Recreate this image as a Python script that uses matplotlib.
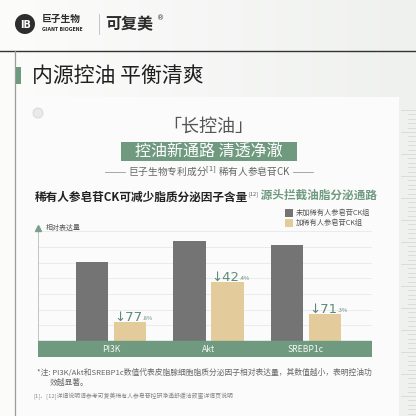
import numpy as np
import matplotlib
matplotlib.use("Agg")
import matplotlib.pyplot as plt
from matplotlib.patches import Rectangle, Circle

plt.rcParams["font.family"] = ["Noto Sans CJK SC", "DejaVu Sans"]

categories = ["PI3K", "Akt", "SREBP1c"]
control = [0.79, 1.00, 0.96]
treated = [0.19, 0.59, 0.27]
drops = ["77.8", "42.4", "71.3"]
legend_labels = ["未加稀有人参皂苷CK组", "加稀有人参皂苷CK组"]

GREEN = "#6F9A80"
DARK = "#747474"
TAN = "#E4CB9B"
TXT_GREEN = "#5E8B78"

W = H = 416
fig = plt.figure(figsize=(4.16, 4.16), dpi=100)

# background layer in pixel coordinates
bg = fig.add_axes([0, 0, 1, 1])
bg.set_xlim(0, W)
bg.set_ylim(H, 0)
bg.axis("off")
grad = np.linspace(0, 1, 256)[None, :]
bg.imshow(grad, extent=(0, W, H, 0), cmap=matplotlib.colors.LinearSegmentedColormap.from_list(
    "g", ["#FCFCFB", "#EFF1EF"]), aspect="auto", zorder=0)
bg.add_patch(Rectangle((19, 97), 380, 330, facecolor="#FBFBFB", edgecolor="none", zorder=1))
bg.plot([0, W], [51, 51], color="#333333", lw=1.0, zorder=2)
bg.plot([15, 15], [51, H], color="#9A9A9A", lw=0.9, zorder=2)

# ruler ticks on the right
for i, yy in enumerate(np.arange(110, 416, 4.4)):
    x0 = 401 if i % 5 == 0 else 408
    bg.plot([x0, 415], [yy, yy], color="#D2D2D2", lw=0.5, zorder=2)

# logo
bg.add_patch(Circle((25, 24), 10, facecolor="#2E2E2E", zorder=3))
bg.text(25.5, 24.5, "IB", color="white", fontsize=7, fontweight="bold", ha="center", va="center",
        family="DejaVu Sans", zorder=4)
bg.text(42, 19, "巨子生物", fontsize=7, fontweight="bold", color="#2B2B2B", va="center", zorder=4)
bg.text(42, 29.5, "GIANT BIOGENE", fontsize=3.3, fontweight="bold", color="#2B2B2B", va="center",
        family="DejaVu Sans", zorder=4)
bg.plot([99, 99], [14, 34], color="#BBBBBB", lw=0.6, zorder=3)
bg.text(105, 24, "可复美", fontsize=11.5, fontweight="bold", color="#2B2B2B", va="center", zorder=4)
bg.text(157, 18, "®", fontsize=5, color="#2B2B2B", va="center", family="DejaVu Sans", zorder=4)

# section title
bg.add_patch(Rectangle((16, 67), 5, 17, facecolor=GREEN, zorder=3))
bg.text(32, 76, "内源控油 平衡清爽", fontsize=15, color="#1F1F1F", va="center", zorder=4)

# card
bg.add_patch(Circle((38, 113), 5, facecolor="#E9E9E9", edgecolor="#D6D6D6", lw=0.6, zorder=3))
bg.text(208, 127, "「长控油」", fontsize=13, color="#555555", ha="center", va="center", zorder=4)
bg.add_patch(Rectangle((121, 142), 176, 19, facecolor=GREEN, zorder=3))
bg.text(209, 152, "控油新通路 清透净澈", fontsize=11.5, color="white", ha="center", va="center", zorder=4)
bg.text(209, 171.5, "巨子生物专利成分$^{[1]}$ 稀有人参皂苷CK", fontsize=7, color="#666666",
        ha="center", va="center", zorder=4)
bg.plot([105, 125], [171.5, 171.5], color="#999999", lw=0.6, zorder=3)
bg.plot([293, 313], [171.5, 171.5], color="#999999", lw=0.6, zorder=3)
t1 = bg.text(35, 197, "稀有人参皂苷CK可减少脂质分泌因子含量", fontsize=8.4, fontweight="bold",
             color="#222222", va="center", zorder=4)
t2 = bg.annotate("[12]", xy=(1, 0.75), xycoords=t1, fontsize=4, color="#555555", va="center",
                 zorder=4)
bg.annotate(" 源头拦截油脂分泌通路", xy=(1, 0.5), xycoords=t2, xytext=(0, -1.2),
            textcoords="offset points", fontsize=8.4, fontweight="bold", color=GREEN,
            va="center", zorder=4)

# legend
for k, (lab, col) in enumerate(zip(legend_labels, [DARK, TAN])):
    yy = 209 + k * 10
    bg.add_patch(Rectangle((285, yy), 8, 7.5, facecolor=col, zorder=3))
    bg.text(296, yy + 3.8, lab, fontsize=5.2, color="#555555", va="center", zorder=4)

# footnotes
bg.text(37, 373, "*注: PI3K/Akt和SREBP1c数值代表皮脂腺细胞脂质分泌因子相对表达量，其数值越小，表明控油功",
        fontsize=5.6, color="#666666", va="center", zorder=4)
bg.text(50, 383, "效越显著。", fontsize=5.6, color="#666666", va="center", zorder=4)
bg.text(33, 396, "[1]、[12]详细说明请参考可复美稀有人参皂苷控研净透舒缓洁颜蜜详情页说明",
        fontsize=4.2, color="#888888", va="center", zorder=4)

# chart axes
ax = fig.add_axes([38 / W, 1 - 357 / H, 334 / W, (357 - 226) / H])
ax.patch.set_alpha(0)
x = np.arange(len(categories))
bw = 0.333
off = 0.197
ax.bar(x - off, control, bw, color=DARK, zorder=3)
ax.bar(x + off, treated, bw, color=TAN, zorder=3)
ax.set_xlim(-0.749, 2.677)
ax.set_ylim(-0.16, 1.15)
ax.set_yticks(np.arange(1, 8) * 0.157)
ax.grid(axis="y", color="#E8E8E8", lw=0.6, zorder=0)
ax.tick_params(left=False, bottom=False, labelleft=False, labelbottom=False)
for s in ax.spines.values():
    s.set_visible(False)
ax.axhspan(-0.16, 0, color=GREEN, zorder=4)
for xi, c in zip(x, categories):
    ax.text(xi, -0.08, c, color="#F4F7F5", fontsize=6.2, ha="center", va="center", zorder=5)
ax.plot([-0.749, -0.749], [0, 1.13], color="#C4C4C4", lw=0.7, zorder=2, clip_on=False)
ax.plot([-0.749], [1.13], marker="^", color="#7E9E8C", ms=4, clip_on=False, zorder=5)
ax.text(-0.67, 1.13, "相对表达量", fontsize=5, color="#555555", va="center")

for xi, v, d in zip(x, treated, drops):
    whole, dec = d.split(".")
    t = ax.annotate("↓" + whole, xy=(xi + off - bw / 2, v), xytext=(0, -1.5),
                    textcoords="offset points", fontsize=9.5, color=TXT_GREEN,
                    ha="left", va="bottom", family=["DejaVu Sans"], zorder=6)
    ax.annotate("." + dec + "%", xy=(1, 0.2), xycoords=t, fontsize=4.2, color=TXT_GREEN,
                ha="left", va="bottom", zorder=6)

fig.savefig("out.png", dpi=100)
